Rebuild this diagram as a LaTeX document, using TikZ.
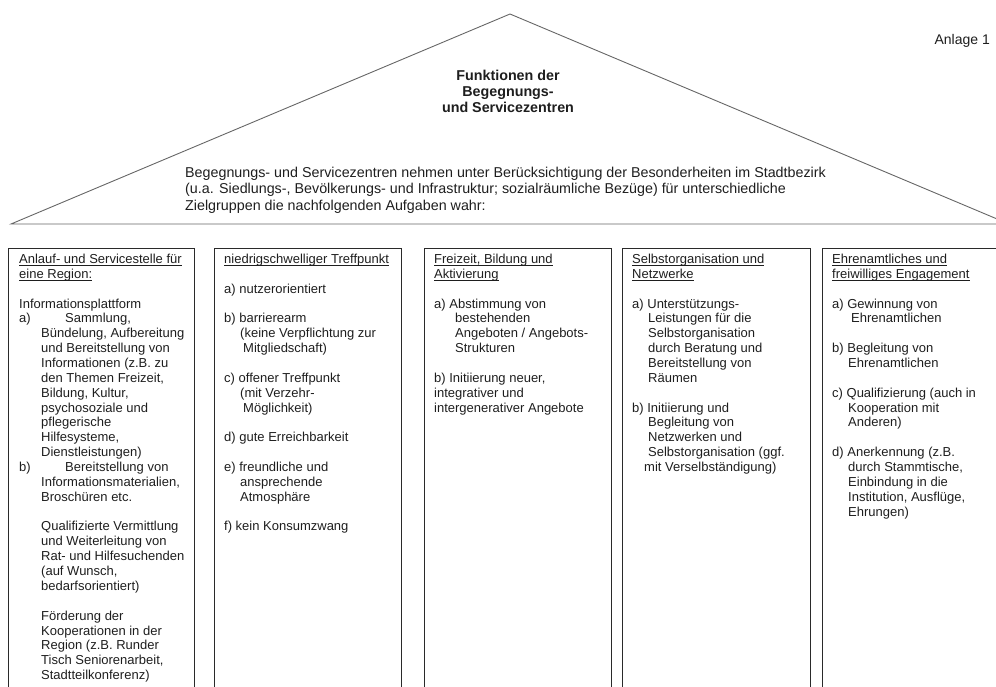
\documentclass[tikz,border=0pt]{standalone}
\usepackage{fontspec}
\setmainfont{Liberation Sans}

\definecolor{ink}{HTML}{1E1E1E}
\definecolor{roofline}{HTML}{666666}
\definecolor{boxline}{HTML}{2A2A2A}

% underlined heading with a fixed rule position
\newcommand\hdline[1]{\leavevmode\setbox0\hbox{#1}\rlap{\rule[-2.3pt]{\wd0}{0.8pt}}\box0}
% indented continuation line
\newcommand\ind[2]{\hspace*{#1pt}#2}

\tikzset{
  roof/.style={draw=roofline, line width=0.9pt},
  frame/.style={draw=boxline, line width=0.9pt, anchor=north west, inner sep=0pt},
  coltext/.style={anchor=base west, inner sep=0pt, text=ink,
                  font=\fontsize{13}{14.86}\selectfont},
}

\begin{document}
\begin{tikzpicture}[x=1pt, y=-1pt]
\useasboundingbox (0,0) rectangle (996,686);
\clip (0,0) rectangle (996,686);

% roof
\coordinate (eaveL) at (11,224);
\coordinate (ridge) at (510,14);
\coordinate (eaveR) at (1009,224);
\draw[roof] (eaveL) -- (ridge) -- (eaveR) -- cycle;

\node[anchor=base east, inner sep=0pt, text=ink, font=\fontsize{14}{16}\selectfont]
  (annex) at (990,44.5) {Anlage 1};

\node[anchor=base, inner sep=0pt, text=ink] (title) at (508,80)
  {\parbox[t]{220pt}{\centering\fontsize{14.3}{16.2}\selectfont\bfseries
   Funktionen der\\Begegnungs-\\und Servicezentren}};

\node[coltext] (intro) at (185,177)
  {\parbox[t]{760pt}{\fontsize{14.3}{16.5}\selectfont
   Begegnungs- und Servicezentren nehmen unter Berücksichtigung der Besonderheiten im Stadtbezirk\\
   (u.a. Siedlungs-, Bevölkerungs- und Infrastruktur; sozialräumliche Bezüge) für unterschiedliche\\
   Zielgruppen die nachfolgenden Aufgaben wahr:}};

% pillars
\node[frame, minimum width=186pt, minimum height=470pt] (box1) at (8,248) {};
\node[frame, minimum width=187pt, minimum height=470pt] (box2) at (214,248) {};
\node[frame, minimum width=187pt, minimum height=470pt] (box3) at (424,248) {};
\node[frame, minimum width=188pt, minimum height=470pt] (box4) at (622,248) {};
\node[frame, minimum width=200pt, minimum height=470pt] (box5) at (822,248) {};

\node[coltext] (text1) at (19,263.5) {\parbox[t]{260pt}{\raggedright
  \hdline{Anlauf- und Servicestelle für}\\
  \hdline{eine Region:}\\[14.86pt]
  Informationsplattform\\
  \makebox[46pt][l]{a)}Sammlung,\\
  \ind{22}{Bündelung, Aufbereitung}\\
  \ind{22}{und Bereitstellung von}\\
  \ind{22}{Informationen (z.B. zu}\\
  \ind{22}{den Themen Freizeit,}\\
  \ind{22}{Bildung, Kultur,}\\
  \ind{22}{psychosoziale und}\\
  \ind{22}{pflegerische}\\
  \ind{22}{Hilfesysteme,}\\
  \ind{22}{Dienstleistungen)}\\
  \makebox[46pt][l]{b)}Bereitstellung von\\
  \ind{22}{Informationsmaterialien,}\\
  \ind{22}{Broschüren etc.}\\[14.86pt]
  \ind{22}{Qualifizierte Vermittlung}\\
  \ind{22}{und Weiterleitung von}\\
  \ind{22}{Rat- und Hilfesuchenden}\\
  \ind{22}{(auf Wunsch,}\\
  \ind{22}{bedarfsorientiert)}\\[14.86pt]
  \ind{22}{Förderung der}\\
  \ind{22}{Kooperationen in der}\\
  \ind{22}{Region (z.B. Runder}\\
  \ind{22}{Tisch Seniorenarbeit,}\\
  \ind{22}{Stadtteilkonferenz)}}};

\node[coltext] (text2) at (224,263.5) {\parbox[t]{260pt}{\raggedright
  \hdline{niedrigschwelliger Treffpunkt}\\[14.86pt]
  a) nutzerorientiert\\[14.86pt]
  b) barrierearm\\
  \ind{16}{(keine Verpflichtung zur}\\
  \ind{19}{Mitgliedschaft)}\\[14.86pt]
  c) offener Treffpunkt\\
  \ind{16}{(mit Verzehr-}\\
  \ind{19}{Möglichkeit)}\\[14.86pt]
  d) gute Erreichbarkeit\\[14.86pt]
  e) freundliche und\\
  \ind{16}{ansprechende}\\
  \ind{16}{Atmosphäre}\\[14.86pt]
  f) kein Konsumzwang}};

\node[coltext] (text3) at (434,263.5) {\parbox[t]{260pt}{\raggedright
  \hdline{Freizeit, Bildung und}\\
  \hdline{Aktivierung}\\[14.86pt]
  a) Abstimmung von\\
  \ind{21}{bestehenden}\\
  \ind{21}{Angeboten / Angebots-}\\
  \ind{21}{Strukturen}\\[14.86pt]
  b) Initiierung neuer,\\
  integrativer und\\
  intergenerativer Angebote}};

\node[coltext] (text4) at (632,263.5) {\parbox[t]{260pt}{\raggedright
  \hdline{Selbstorganisation und}\\
  \hdline{Netzwerke}\\[14.86pt]
  a) Unterstützungs-\\
  \ind{16}{Leistungen für die}\\
  \ind{16}{Selbstorganisation}\\
  \ind{16}{durch Beratung und}\\
  \ind{16}{Bereitstellung von}\\
  \ind{16}{Räumen}\\[14.86pt]
  b) Initiierung und\\
  \ind{16}{Begleitung von}\\
  \ind{16}{Netzwerken und}\\
  \ind{16}{Selbstorganisation (ggf.}\\
  \ind{12}{mit Verselbständigung)}}};

\node[coltext] (text5) at (832,263.5) {\parbox[t]{260pt}{\raggedright
  \hdline{Ehrenamtliches und}\\
  \hdline{freiwilliges Engagement}\\[14.86pt]
  a) Gewinnung von\\
  \ind{19}{Ehrenamtlichen}\\[14.86pt]
  b) Begleitung von\\
  \ind{16}{Ehrenamtlichen}\\[14.86pt]
  c) Qualifizierung (auch in\\
  \ind{16}{Kooperation mit}\\
  \ind{16}{Anderen)}\\[14.86pt]
  d) Anerkennung (z.B.\\
  \ind{16}{durch Stammtische,}\\
  \ind{16}{Einbindung in die}\\
  \ind{16}{Institution, Ausflüge,}\\
  \ind{16}{Ehrungen)}}};

\end{tikzpicture}
\end{document}
